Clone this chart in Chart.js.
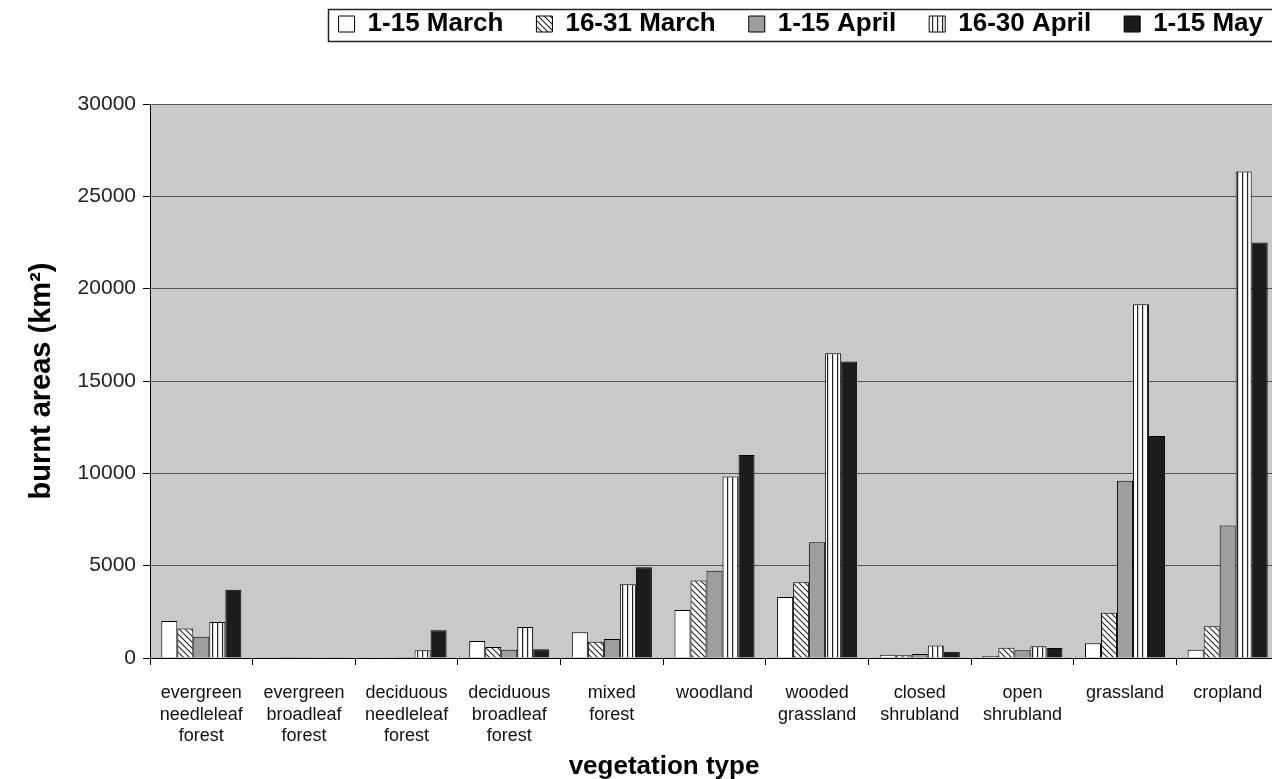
<!DOCTYPE html>
<html>
<head>
<meta charset="utf-8">
<script src="https://cdn.jsdelivr.net/npm/chart.js@4/dist/chart.umd.min.js"></script>
<style>
  html, body { margin: 0; padding: 0; background: #fff; overflow: hidden; }
  #wrap { width: 1290px; height: 779px; position: relative; }
</style>
</head>
<body>
<div id="wrap"><canvas id="c"></canvas></div>
<script>
/* data */
const categories = [
  ['evergreen', 'needleleaf', 'forest'],
  ['evergreen', 'broadleaf', 'forest'],
  ['deciduous', 'needleleaf', 'forest'],
  ['deciduous', 'broadleaf', 'forest'],
  ['mixed', 'forest'],
  ['woodland'],
  ['wooded', 'grassland'],
  ['closed', 'shrubland'],
  ['open', 'shrubland'],
  ['grassland'],
  ['cropland']
];
const seriesNames = ['1-15 March', '16-31 March', '1-15 April', '16-30 April', '1-15 May'];
const march1 = [2000, 30, 10, 920, 1400, 2600, 3300, 180, 110, 800, 450];
const march2 = [1600, 60, 30, 600, 880, 4200, 4100, 150, 560, 2450, 1720];
const april1 = [1150, 40, 60, 450, 1030, 4720, 6270, 220, 420, 9600, 7180];
const april2 = [1950, 30, 420, 1680, 4000, 9830, 16500, 680, 640, 19150, 26350];
const may1   = [3700, 20, 1500, 480, 4920, 10990, 16050, 340, 540, 12020, 22500];
const yTicks = [0, 5000, 10000, 15000, 20000, 25000, 30000];

const FONT = 'Liberation Sans, Arial, sans-serif';

/* fill patterns */
function pat(w, h, bg, draw) {
  const c = document.createElement('canvas');
  c.width = w; c.height = h;
  const x = c.getContext('2d');
  x.fillStyle = bg; x.fillRect(0, 0, w, h);
  if (draw) draw(x);
  return x.createPattern(c, 'repeat');
}
const fills = [
  '#ffffff',
  pat(6, 6, '#ffffff', x => {
    x.strokeStyle = '#222'; x.lineWidth = 1.1;
    [-6, 0, 6].forEach(k => { x.beginPath(); x.moveTo(-1, -1 + k); x.lineTo(7, 7 + k); x.stroke(); });
  }),
  '#9e9e9e',
  pat(5, 5, '#ffffff', x => { x.fillStyle = '#222'; x.fillRect(2, 0, 1.2, 5); }),
  '#1c1c1c'
];
const values = [march1, march2, april1, april2, may1];

const plotBg = {
  id: 'plotBg',
  beforeDraw(chart) {
    const { ctx, chartArea: a } = chart;
    ctx.save();
    ctx.fillStyle = '#c9c9c9';
    ctx.fillRect(a.left, a.top, a.right - a.left, a.bottom - a.top);
    ctx.restore();
  }
};

// nudge the legend into place after layout, frame it, and place the x title
const legendPlace = {
  id: 'legendPlace',
  afterLayout(chart) {
    const lg = chart.legend;
    if (!lg) return;
    const dx = 17, h = lg.bottom - lg.top;
    lg.left += dx; lg.right += dx;
    lg.top = -22; lg.bottom = lg.top + h;
  },
  afterDraw(chart) {
    const lg = chart.legend, ctx = chart.ctx;
    ctx.save();
    if (lg && lg.legendHitBoxes.length) {
      const l = Math.round(lg.legendHitBoxes[0].left) - 10.5;
      ctx.strokeStyle = '#222'; ctx.lineWidth = 1.5;
      ctx.beginPath();
      ctx.moveTo(chart.width + 5, 9.5); ctx.lineTo(l, 9.5); ctx.lineTo(l, 41.5); ctx.lineTo(chart.width + 5, 41.5);
      ctx.stroke();
    }
    ctx.fillStyle = '#000';
    ctx.font = 'bold 26px ' + FONT;
    ctx.textAlign = 'center';
    ctx.textBaseline = 'middle';
    ctx.fillText('vegetation type', 664, 767);
    ctx.restore();
  }
};

new Chart(document.getElementById('c'), {
  type: 'bar',
  data: {
    labels: categories,
    datasets: seriesNames.map((n, i) => ({
      label: n,
      data: values[i],
      backgroundColor: fills[i],
      borderColor: '#000',
      borderWidth: 1,
      barPercentage: 1,
      categoryPercentage: 0.78
    }))
  },
  options: {
    responsive: true,
    maintainAspectRatio: false,
    animation: false,
    layout: { padding: { top: 0, right: 11, left: 0, bottom: 0 } },
    plugins: {
      legend: {
        position: 'top',
        align: 'end',
        labels: {
          color: '#000',
          font: { family: FONT, size: 26, weight: 'bold' },
          boxWidth: 16, boxHeight: 16, padding: 33
        }
      },
      title: { display: true, text: ' ', weight: 500, font: { size: 10, lineHeight: 1 }, padding: { top: 12, bottom: 13 } },
      tooltip: { enabled: false }
    },
    scales: {
      x: {
        grid: { display: true, drawOnChartArea: false, drawTicks: true, tickLength: 7, color: '#000', offset: true },
        border: { color: '#000', width: 1 },
        ticks: {
          color: '#111', maxRotation: 0, autoSkip: false, padding: 18,
          font: { family: FONT, size: 18, lineHeight: 1.17 }
        },
        afterFit(s) { s.height = 121; }
      },
      y: {
        min: 0, max: 30000,
        afterBuildTicks(s) { s.ticks = yTicks.map(v => ({ value: v })); },
        grid: { color: '#555', lineWidth: 1, drawTicks: true, tickLength: 7, tickColor: '#000' },
        border: { color: '#000', width: 1 },
        ticks: { color: '#222', padding: 7, font: { family: FONT, size: 21 }, callback: v => String(v) },
        title: {
          display: true, text: 'burnt areas (km²)', color: '#000',
          font: { family: FONT, size: 29, weight: 'bold', lineHeight: 1.2 },
          padding: { top: 25, bottom: 0 }
        },
        afterFit(s) { s.width = 150; }
      }
    }
  },
  plugins: [plotBg, legendPlace]
});
</script>
</body>
</html>
